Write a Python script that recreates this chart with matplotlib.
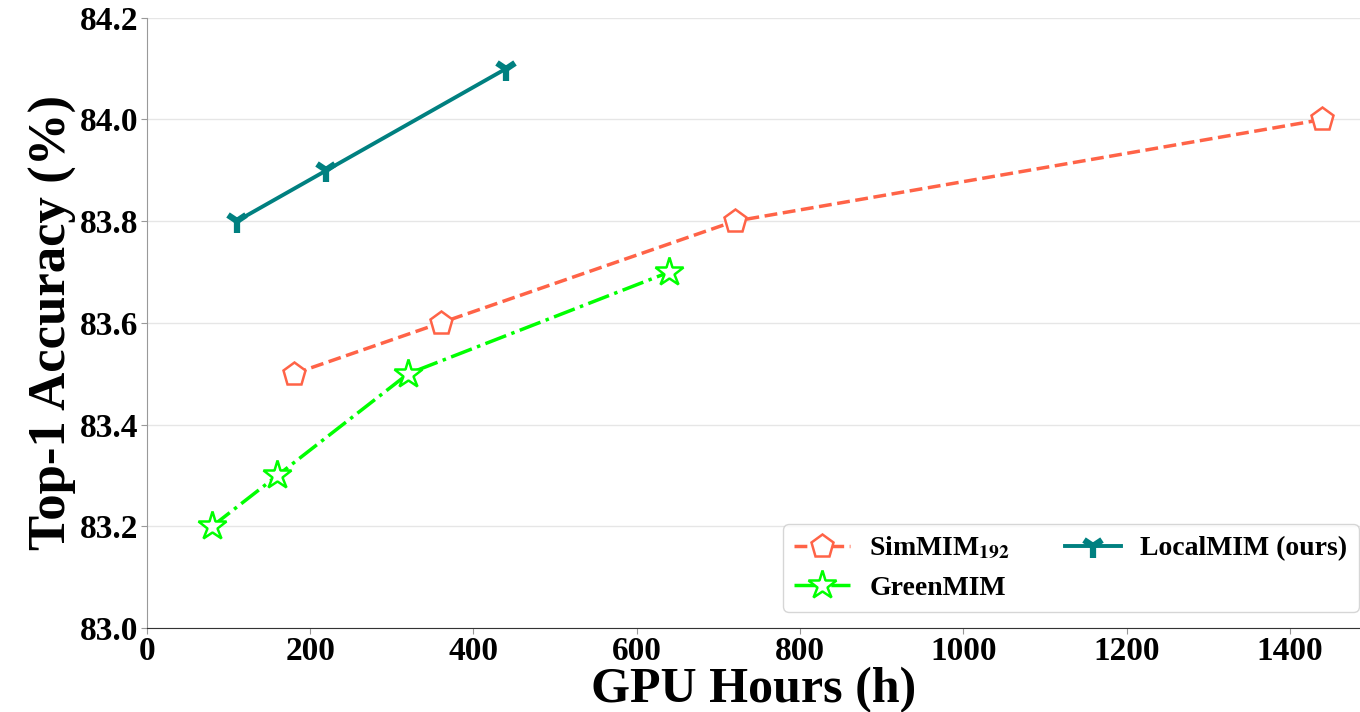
import matplotlib
matplotlib.use('Agg')
import matplotlib.pyplot as plt

plt.rcParams['font.family'] = ['Liberation Serif', 'DejaVu Serif']
plt.rcParams['font.weight'] = 'bold'
plt.rcParams['mathtext.fontset'] = 'stix'

# data
simmim_hours = [180, 360, 720, 1440]
simmim_acc = [83.5, 83.6, 83.8, 84.0]
greenmim_hours = [80, 160, 320, 640]
greenmim_acc = [83.2, 83.3, 83.5, 83.7]
localmim_hours = [110, 220, 440]
localmim_acc = [83.8, 83.9, 84.1]

x_ticks = [0, 200, 400, 600, 800, 1000, 1200, 1400]
y_ticks = [83.0, 83.2, 83.4, 83.6, 83.8, 84.0, 84.2]

fig = plt.figure(figsize=(13.6, 7.12), dpi=100)
ax = fig.add_axes([0.108, 0.118, 0.892, 0.857])

ax.plot(simmim_hours, simmim_acc, linestyle='--', color='tomato', linewidth=2.5,
        marker='p', markersize=17, markerfacecolor='white', markeredgewidth=1.8,
        label='SimMIM$_{192}$')
ax.plot(greenmim_hours, greenmim_acc, linestyle='-.', color='lime', linewidth=2.5,
        marker='*', markersize=21, markerfacecolor='white', markeredgewidth=1.8,
        label='GreenMIM')
ax.plot(localmim_hours, localmim_acc, linestyle='-', color='teal', linewidth=2.8,
        marker='1', markersize=17, markeredgewidth=4.5,
        label='LocalMIM (ours)')

ax.set_xlim(0, 1486)
ax.set_ylim(83.0, 84.2)
ax.set_xticks(x_ticks)
ax.set_yticks(y_ticks)
ax.set_yticklabels(['%.1f' % v for v in y_ticks])
ax.tick_params(labelsize=24, color='#999999', length=4, pad=2)
for lbl in ax.get_xticklabels() + ax.get_yticklabels():
    lbl.set_fontweight('bold')

ax.grid(axis='y', color='#e6e6e6', linewidth=1)
ax.set_axisbelow(True)
ax.spines['top'].set_visible(False)
ax.spines['right'].set_visible(False)
ax.spines['left'].set_color('#999999')
ax.spines['bottom'].set_color('#333333')

ax.set_xlabel('GPU Hours (h)', fontsize=36, fontweight='bold', labelpad=0)
ax.set_ylabel('Top-1 Accuracy (%)', fontsize=38, fontweight='bold', labelpad=2)

ax.legend(loc='lower right', bbox_to_anchor=(1.0, 0.024), ncol=2,
          prop={'size': 20, 'weight': 'bold'},
          handlelength=2.0, handletextpad=0.7, columnspacing=2.0,
          borderaxespad=0.05, edgecolor='#cccccc')

plt.savefig('out.png', dpi=100)
